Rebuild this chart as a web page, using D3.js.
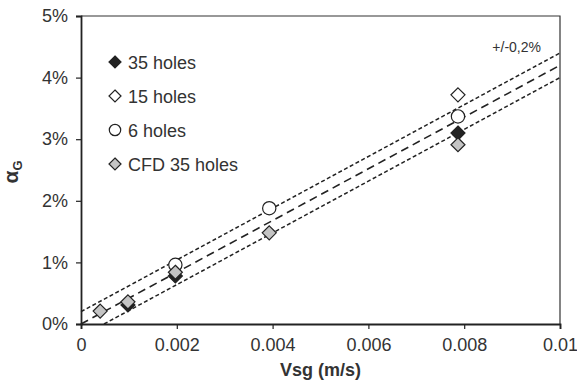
<!DOCTYPE html>
<html>
<head>
<meta charset="utf-8">
<script src="https://cdn.jsdelivr.net/npm/d3@7"></script>
<style>
  body { margin: 0; background: #fff; }
  text { font-family: "Liberation Sans", Arial, sans-serif; fill: #333; }
</style>
</head>
<body>
<svg id="chart" width="577" height="386"></svg>
<script>
// series values: [Vsg (m/s), alpha_G]
const holes35 = [[0.00098, 0.0031], [0.00197, 0.0078], [0.00787, 0.0310]];
const holes15 = [[0.00787, 0.0372]];
const holes6 = [[0.00197, 0.0096], [0.00393, 0.0188], [0.00787, 0.0337]];
const cfd35 = [[0.0004, 0.0021], [0.00098, 0.0036], [0.00197, 0.0084], [0.00393, 0.0148], [0.00787, 0.0291]];

// fit line and +/-0,2% band
const fitLine = [[0, 0], [0.01, 0.042]];
const upperLine = [[0, 0.002], [0.01, 0.044]];
const lowerLine = [[0.00048, 0], [0.01, 0.040]];

const xTicks = [0, 0.002, 0.004, 0.006, 0.008, 0.01];
const yTicks = [0, 0.01, 0.02, 0.03, 0.04, 0.05];

const svg = d3.select("#chart");
const margin = { top: 16, right: 17, bottom: 62, left: 81 };
const width = 577 - margin.left - margin.right,
  height = 386 - margin.top - margin.bottom;

const g = svg.append("g").attr("transform", `translate(${margin.left},${margin.top})`);

const x = d3.scaleLinear().domain([0, 0.01]).range([0, width]);
const y = d3.scaleLinear().domain([0, 0.05]).range([height, 0]);

// frame (top and right)
g.append("path")
  .attr("d", `M0,0H${width}V${height}`)
  .attr("fill", "none")
  .attr("stroke", "#333")
  .attr("stroke-width", 1.2);

// axes
const xAxis = g.append("g")
  .attr("transform", `translate(0,${height})`)
  .call(d3.axisBottom(x).tickValues(xTicks).tickFormat(d3.format(".3~f")).tickSize(5).tickPadding(9));
const yAxis = g.append("g")
  .call(d3.axisLeft(y).tickValues(yTicks).tickFormat(d3.format(".0%")).tickSize(5).tickPadding(8));

[xAxis, yAxis].forEach((ax) => {
  ax.selectAll(".domain").attr("stroke", "#222").attr("stroke-width", 1.8);
  ax.selectAll(".tick line").attr("stroke", "#222").attr("stroke-width", 1.2);
  ax.selectAll(".tick text")
    .attr("font-size", 18)
    .attr("fill", "#333")
    .style("font-family", "'Liberation Sans', Arial, sans-serif");
});

// lines
const line = d3.line().x((d) => x(d[0])).y((d) => y(d[1]));
g.append("path").datum(fitLine)
  .attr("d", line).attr("fill", "none")
  .attr("stroke", "#222").attr("stroke-width", 1.6)
  .attr("stroke-dasharray", "8,5");
[upperLine, lowerLine].forEach((l) => {
  g.append("path").datum(l)
    .attr("d", line).attr("fill", "none")
    .attr("stroke", "#222").attr("stroke-width", 1.5)
    .attr("stroke-dasharray", "4,2.5");
});

// markers
const diamond = (s) => `M0,${-s}L${s},0L0,${s}L${-s},0Z`;
const series = [
  { name: "35 holes", data: holes35, shape: "diamond", fill: "#222" },
  { name: "15 holes", data: holes15, shape: "diamond", fill: "#fff" },
  { name: "6 holes", data: holes6, shape: "circle", fill: "#fff" },
  { name: "CFD 35 holes", data: cfd35, shape: "diamond", fill: "#c4c4c4" },
];

function drawMarker(sel, s, size) {
  if (s.shape === "circle") {
    sel.append("circle").attr("r", size * 0.95)
      .attr("fill", s.fill).attr("stroke", "#222").attr("stroke-width", 1.2);
  } else {
    sel.append("path").attr("d", diamond(size))
      .attr("fill", s.fill).attr("stroke", "#222").attr("stroke-width", 1.2);
  }
}

series.forEach((s) => {
  g.append("g").selectAll("g")
    .data(s.data)
    .enter()
    .append("g")
    .attr("transform", (d) => `translate(${x(d[0])},${y(d[1])})`)
    .each(function () { drawMarker(d3.select(this), s, 7); });
});

// legend
const legend = g.append("g").attr("transform", "translate(34,46)");
series.forEach((s, i) => {
  const row = legend.append("g").attr("transform", `translate(0,${i * 34})`);
  drawMarker(row, s, 6);
  row.append("text")
    .attr("x", 13).attr("y", 6.5)
    .attr("font-size", 18)
    .text(s.name);
});

// band label
g.append("text")
  .attr("x", width - 19).attr("y", 36)
  .attr("text-anchor", "end")
  .attr("font-size", 14)
  .text("+/-0,2%");

// axis titles
g.append("text")
  .attr("x", width / 2).attr("y", height + 52)
  .attr("text-anchor", "middle")
  .attr("font-size", 18).attr("font-weight", "bold")
  .text("Vsg (m/s)");

const yt = g.append("text")
  .attr("transform", `translate(${-63},${height / 2 + 2}) rotate(-90)`)
  .attr("text-anchor", "middle")
  .attr("font-size", 21).attr("font-weight", "bold");
yt.append("tspan").text("α");
yt.append("tspan").attr("font-size", 13).attr("dy", 4).text("G");
</script>
</body>
</html>
